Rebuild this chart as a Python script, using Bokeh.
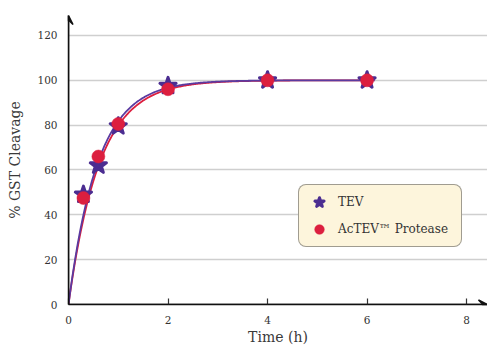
import numpy as np
from bokeh.plotting import figure
from bokeh.models import FixedTicker, Arrow, VeeHead, Legend, LegendItem, Range1d
from bokeh.embed import file_html
from bokeh.resources import INLINE

# ---- data ----
time_tev = [0.3, 0.6, 1, 2, 4, 6]
cleavage_tev = [49, 62, 79.5, 97.5, 100, 100]
time_actev = [0.3, 0.6, 1, 2, 4, 6]
cleavage_actev = [47.5, 66, 80.5, 96, 100, 100]
# first-order fit rate constants (1/h) of the drawn curves
rate_tev = 1.7
rate_actev = 1.6
curve_end = 6.15
x_ticks = [0, 2, 4, 6, 8]
y_ticks = [0, 20, 40, 60, 80, 100, 120]
x_max = 8.42
y_max = 128.9
series_names = ["TEV", "AcTEV\u2122 Protease"]

TEXT = "#333333"
FONT = "DejaVu Serif"
PURPLE = "#4b2d91"
PURPLE_LINE = "#5b3aa0"
RED = "#dc1f3f"

p = figure(width=487, height=347, output_backend="svg", toolbar_location=None,
           x_range=Range1d(0, x_max), y_range=Range1d(0, y_max),
           min_border_left=68, min_border_right=0, min_border_top=15, min_border_bottom=43)
p.outline_line_color = None
p.background_fill_color = "white"

# curves
t = np.linspace(0, curve_end, 300)
fit_actev = 100 * (1 - np.exp(-rate_actev * t))
fit_tev = 100 * (1 - np.exp(-rate_tev * t))
p.line(t, fit_actev, line_color=RED, line_width=1.8)
p.line(t, fit_tev, line_color=PURPLE_LINE, line_width=1.8)

r_tev = p.scatter(time_tev, cleavage_tev, marker="star", size=17,
                  fill_color=PURPLE, line_color=PURPLE, line_width=3, line_join="round")
r_actev = p.scatter(time_actev, cleavage_actev, marker="circle", size=13,
                    fill_color=RED, line_color=RED, line_width=0.5)

# axes
p.xaxis.ticker = FixedTicker(ticks=x_ticks)
p.yaxis.ticker = FixedTicker(ticks=y_ticks)
p.xgrid.grid_line_color = None
p.ygrid.grid_line_color = "#cfcfcf"
p.ygrid.grid_line_width = 1.5

p.xaxis.axis_label = "Time (h)"
p.yaxis.axis_label = "% GST Cleavage"
for axes in (p.xaxis, p.yaxis):
    axes.axis_line_color = "#111111"
    axes.axis_line_width = 1.5
    axes.minor_tick_line_color = None
    axes.major_label_text_font = FONT
    axes.major_label_text_font_size = "10.5px"
    axes.major_label_text_color = TEXT
    axes.axis_label_text_font = FONT
    axes.axis_label_text_font_size = "14px"
    axes.axis_label_text_font_style = "normal"
    axes.axis_label_text_color = "#3a3a3a"

p.xaxis.major_tick_in = 6
p.xaxis.major_tick_out = 0
p.xaxis.major_tick_line_color = "#333333"
p.xaxis.major_tick_line_width = 1.2
p.xaxis.major_label_standoff = 11
p.xaxis.axis_label_standoff = 2

p.yaxis.major_tick_in = 0
p.yaxis.major_tick_out = 0
p.yaxis.major_label_standoff = 11
p.yaxis.axis_label_standoff = 11

# arrow heads on axes
p.add_layout(Arrow(x_start=0, y_start=0, x_end=0, y_end=y_max, line_color="#111111",
                   line_width=1.5, end=VeeHead(size=9, line_color="#111111", line_width=1.5,
                                               fill_color="#111111")))
p.add_layout(Arrow(x_start=0, y_start=0, x_end=x_max, y_end=0, line_color="#111111",
                   line_width=1.5, end=VeeHead(size=9, line_color="#111111", line_width=1.5,
                                               fill_color="#111111")))

legend = Legend(items=[LegendItem(label=series_names[0], renderers=[r_tev]),
                       LegendItem(label=series_names[1], renderers=[r_actev])],
                location=(230, 57), orientation="vertical",
                glyph_width=30, glyph_height=24, spacing=3, padding=5, margin=0,
                label_standoff=4, label_height=24, label_width=118,
                label_text_font=FONT, label_text_font_size="12px", label_text_color=TEXT,
                border_line_color="#444444", border_line_width=1,
                background_fill_color="#fdf5dc", background_fill_alpha=1.0)
try:
    legend.border_radius = 8
except Exception:
    pass
p.add_layout(legend)

open("out.html", "w").write(file_html(p, INLINE))
